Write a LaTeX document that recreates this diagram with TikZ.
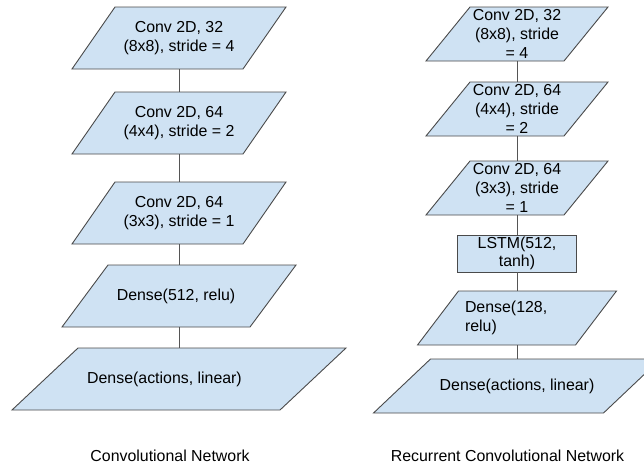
\documentclass[tikz,border=0pt]{standalone}
\usepackage{fontspec}
\setmainfont{Liberation Sans}
\usetikzlibrary{backgrounds}
\definecolor{boxfill}{HTML}{CFE2F3}
\definecolor{boxline}{HTML}{4A4A4A}
\definecolor{linkline}{HTML}{555555}
\tikzset{
  boxtext/.style={inner sep=0pt, outer sep=0pt, align=center,
    font=\fontsize{15.9}{18.6}\selectfont, text=black},
  shapeline/.style={draw=boxline, fill=boxfill, line width=0.9pt, line join=miter},
  link/.style={draw=linkline, line width=0.9pt},
  caption/.style={inner sep=0pt, font=\fontsize{15.9}{18.6}\selectfont, text=black}
}
\newcommand\plgram[7][]{% opts, name, x, y, W, H, slant ; text via \plgtxt
  \node[boxtext, minimum width=#5pt, minimum height=#6pt, #1] (#2) at (#3,#4) {\plgtxt};
  \begin{pgfonlayer}{background}
  \path[shapeline] ([xshift=#7pt]#2.north west) -- (#2.north east)
     -- ([xshift=-#7pt]#2.south east) -- (#2.south west) -- cycle;
  \end{pgfonlayer}
}
\begin{document}
\begin{tikzpicture}[x=1pt,y=-1pt]
\useasboundingbox (0,0) rectangle (644,466);
% left column
\def\plgtxt{Conv 2D, 32\\(8x8), stride = 4}
\plgram{L1}{179}{38}{214}{62}{43}
\def\plgtxt{Conv 2D, 64\\(4x4), stride = 2}
\plgram{L2}{179}{123}{214}{62}{43}
\def\plgtxt{Conv 2D, 64\\(3x3), stride = 1}
\plgram{L3}{179}{213}{214}{62}{43}
\def\plgtxt{Dense(512, relu)\hspace*{6pt}}
\plgram{L4}{179}{296}{234}{62}{46}
\def\plgtxt{Dense(actions, linear)\hspace*{29pt}}
\plgram{L5}{179}{379}{334}{62}{66}
% right column
\def\plgtxt{Conv 2D, 32\\(8x8), stride\\= 4}
\plgram{R1}{517}{34}{182}{54}{44}
\def\plgtxt{Conv 2D, 64\\(4x4), stride\\= 2}
\plgram{R2}{517}{109}{182}{54}{44}
\def\plgtxt{Conv 2D, 64\\(3x3), stride\\= 1}
\plgram{R3}{517}{188}{182}{54}{44}
\node[boxtext, shapeline, minimum width=119pt, minimum height=37pt] (R4) at (517,253.5) {LSTM(512,\\tanh)};
\def\plgtxt{\parbox{104pt}{\raggedright Dense(128,\\relu)}}
\plgram{R5}{517}{318}{199}{54}{41}
\def\plgtxt{Dense(actions, linear)}
\plgram{R6}{517}{386}{287}{54}{57}
% connectors
\draw[link] (L1.south) -- (L2.north);
\draw[link] (L2.south) -- (L3.north);
\draw[link] (L3.south) -- (L4.north);
\draw[link] (L4.south) -- (L5.north);
\draw[link] (R1.south) -- (R2.north);
\draw[link] (R2.south) -- (R3.north);
\draw[link] (R3.south) -- (R4.north);
\draw[link] (R4.south) -- (R5.north);
\draw[link] (R5.south) -- (R6.north);
% captions
\node[caption] (capL) at (170,456) {Convolutional Network};
\node[caption] (capR) at (507.5,456) {Recurrent Convolutional Network};
\end{tikzpicture}
\end{document}
